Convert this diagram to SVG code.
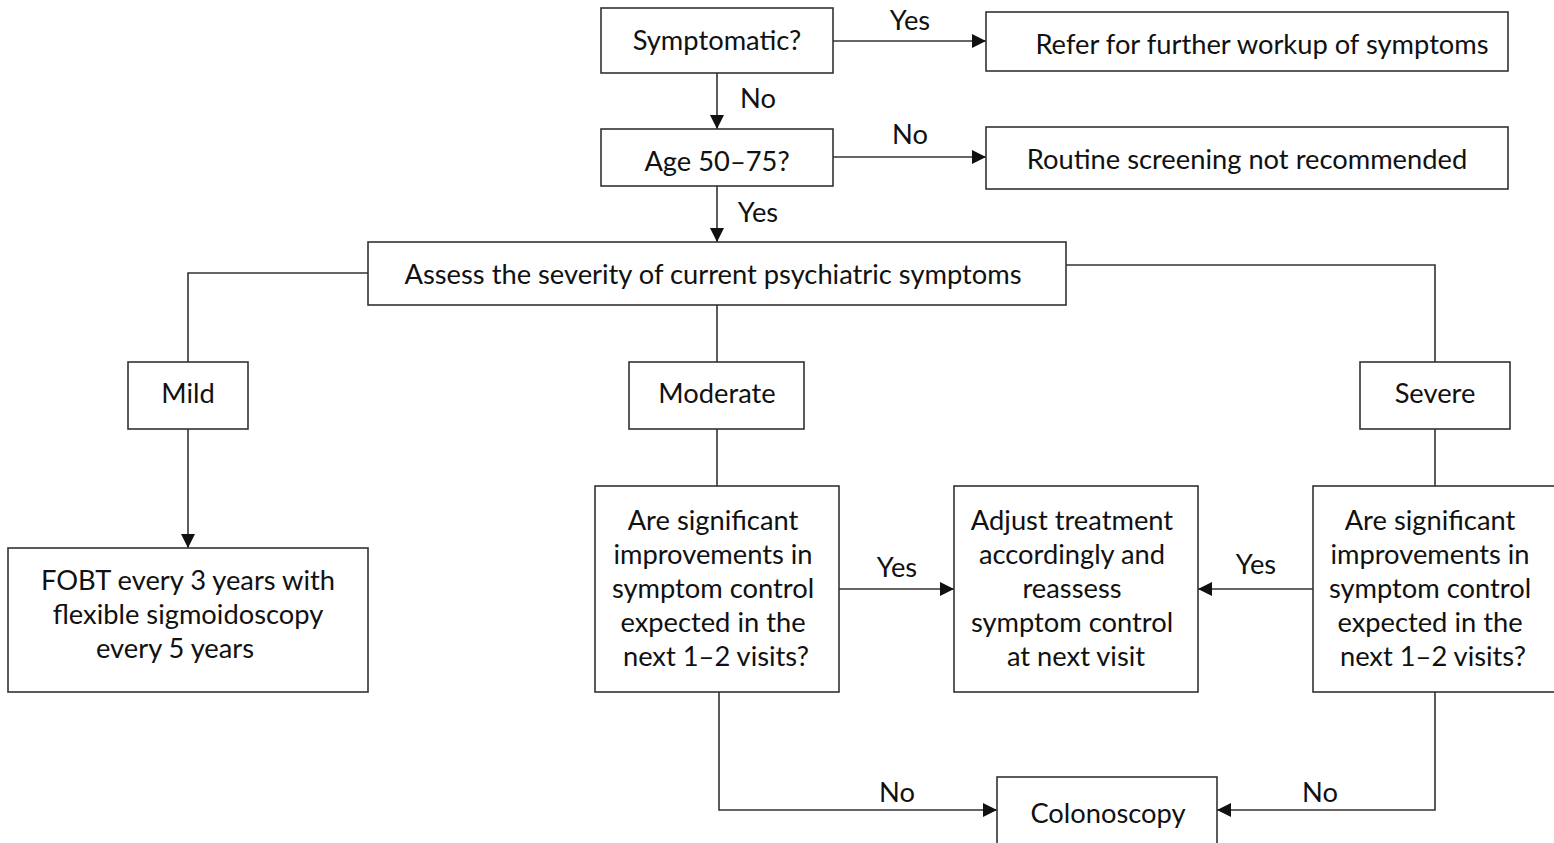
<svg xmlns="http://www.w3.org/2000/svg" width="1554" height="843" viewBox="0 0 1554 843">
<style>
.box{fill:#fff;stroke:#333;stroke-width:1.6}
.ln{fill:none;stroke:#333;stroke-width:1.6}
text{font-family:Lato,"Liberation Sans",sans-serif;font-size:27.3px;fill:#111;text-anchor:middle}
</style>
<defs>
<marker id="ah" viewBox="0 0 14 14" refX="14" refY="7" markerWidth="14" markerHeight="14" markerUnits="userSpaceOnUse" orient="auto">
<path d="M0,0 L14,7 L0,14 Z" fill="#111"/>
</marker>
</defs>
<rect width="1554" height="843" fill="#fff"/>
<g id="connectors">
<path class="ln" d="M833,41 H986" marker-end="url(#ah)"/>
<text x="910" y="30">Yes</text>
<path class="ln" d="M717,73 V129" marker-end="url(#ah)"/>
<text x="758" y="108">No</text>
<path class="ln" d="M833,157 H986" marker-end="url(#ah)"/>
<text x="910" y="144">No</text>
<path class="ln" d="M717,186 V242" marker-end="url(#ah)"/>
<text x="758" y="222">Yes</text>
<path class="ln" d="M368,273 H188 V362"/>
<path class="ln" d="M188,429 V548" marker-end="url(#ah)"/>
<path class="ln" d="M717,305 V362"/>
<path class="ln" d="M717,429 V486"/>
<path class="ln" d="M1066,265 H1435 V362"/>
<path class="ln" d="M1435,429 V486"/>
<path class="ln" d="M839,589 H954" marker-end="url(#ah)"/>
<text x="897" y="577">Yes</text>
<path class="ln" d="M1313,589 H1198" marker-end="url(#ah)"/>
<text x="1256" y="574">Yes</text>
<path class="ln" d="M719,692 V810 H997" marker-end="url(#ah)"/>
<text x="897" y="802">No</text>
<path class="ln" d="M1435,692 V810 H1217" marker-end="url(#ah)"/>
<text x="1320" y="802">No</text>
</g>
<g id="symptomatic"><rect class="box" x="601" y="8" width="232" height="65"/><text x="717" y="50">Symptomatic?</text></g>
<g id="refer"><rect class="box" x="986" y="12" width="522" height="59"/><text x="1262" y="54">Refer for further workup of symptoms</text></g>
<g id="age"><rect class="box" x="601" y="129" width="232" height="57"/><text x="717" y="171">Age 50–75?</text></g>
<g id="routine"><rect class="box" x="986" y="127" width="522" height="62"/><text x="1247" y="169">Routine screening not recommended</text></g>
<g id="assess"><rect class="box" x="368" y="242" width="698" height="63"/><text x="713" y="284">Assess the severity of current psychiatric symptoms</text></g>
<g id="mild"><rect class="box" x="128" y="362" width="120" height="67"/><text x="188" y="403">Mild</text></g>
<g id="moderate"><rect class="box" x="629" y="362" width="175" height="67"/><text x="717" y="403">Moderate</text></g>
<g id="severe"><rect class="box" x="1360" y="362" width="150" height="67"/><text x="1435" y="403">Severe</text></g>
<g id="fobt"><rect class="box" x="8" y="548" width="360" height="144"/>
<text x="188" y="590">FOBT every 3 years with</text>
<text x="188" y="624">flexible sigmoidoscopy</text>
<text x="175" y="658">every 5 years</text></g>
<g id="q-moderate"><rect class="box" x="595" y="486" width="244" height="206"/>
<text x="713" y="530">Are significant</text>
<text x="713" y="564">improvements in</text>
<text x="713" y="598">symptom control</text>
<text x="713" y="632">expected in the</text>
<text x="716" y="666">next 1–2 visits?</text></g>
<g id="adjust"><rect class="box" x="954" y="486" width="244" height="206"/>
<text x="1072" y="530">Adjust treatment</text>
<text x="1072" y="564">accordingly and</text>
<text x="1072" y="598">reassess</text>
<text x="1072" y="632">symptom control</text>
<text x="1076" y="666">at next visit</text></g>
<g id="q-severe"><rect class="box" x="1313" y="486" width="260" height="206"/>
<text x="1430" y="530">Are significant</text>
<text x="1430" y="564">improvements in</text>
<text x="1430" y="598">symptom control</text>
<text x="1430" y="632">expected in the</text>
<text x="1433" y="666">next 1–2 visits?</text></g>
<g id="colonoscopy"><rect class="box" x="997" y="777" width="220" height="90"/><text x="1108" y="823">Colonoscopy</text></g>
</svg>
